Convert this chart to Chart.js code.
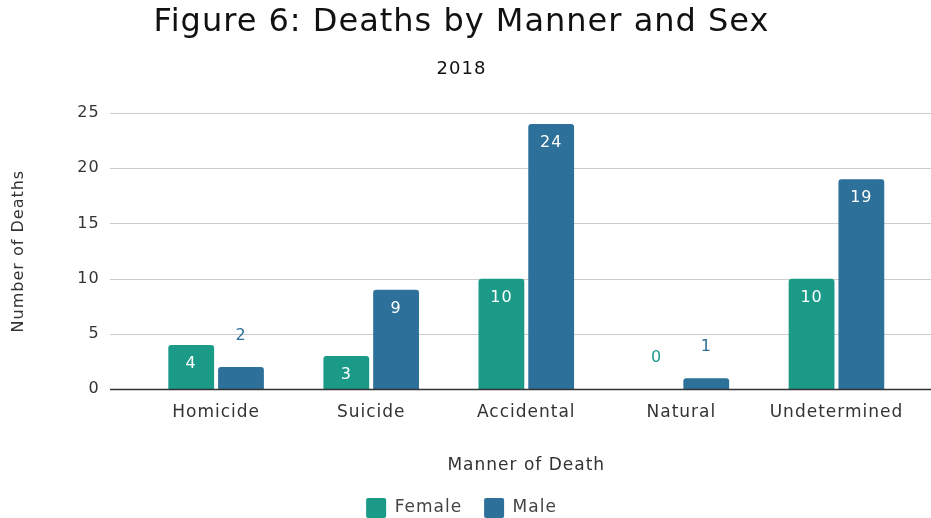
<!DOCTYPE html>
<html>
<head>
<meta charset="utf-8">
<script src="https://cdn.jsdelivr.net/npm/chart.js@4/dist/chart.umd.min.js"></script>
<style>
  html, body { margin: 0; padding: 0; background: #ffffff; }
  #wrap { width: 931px; height: 518px; position: relative; }
</style>
</head>
<body>
<div id="wrap"><canvas id="c"></canvas></div>
<script>
const categories = ["Homicide", "Suicide", "Accidental", "Natural", "Undetermined"];
const femaleDeaths = [4, 3, 10, 0, 10];
const maleDeaths = [2, 9, 24, 1, 19];
const seriesNames = ["Female", "Male"];
const yTicks = [0, 5, 10, 15, 20, 25];

const FEMALE = "#1b9a88";
const MALE = "#2d7099";
const SANS = "'DejaVu Sans', Verdana, sans-serif";
const GEO = "'DejaVu Sans', Verdana, sans-serif";

const spacingPlugin = {
  id: "spacing",
  beforeLayout(chart) { chart.ctx.letterSpacing = "1px"; },
  beforeDraw(chart) { chart.ctx.letterSpacing = "1px"; }
};

const gridPlugin = {
  id: "wideGrid",
  beforeDatasetsDraw(chart) {
    const y = chart.scales.y, ctx = chart.ctx;
    ctx.save();
    y.ticks.forEach(t => {
      const py = Math.round(y.getPixelForValue(t.value)) + 0.5;
      ctx.beginPath();
      ctx.lineWidth = 1;
      ctx.strokeStyle = "#cccccc";
      ctx.moveTo(110, py);
      ctx.lineTo(chart.width, py);
      ctx.stroke();
    });
    ctx.restore();
  },
  afterDatasetsDraw(chart) {
    const y = chart.scales.y, ctx = chart.ctx;
    const py = Math.round(y.getPixelForValue(0)) + 0.5;
    ctx.save();
    ctx.beginPath();
    ctx.lineWidth = 1.3;
    ctx.strokeStyle = "#333333";
    ctx.moveTo(110, py);
    ctx.lineTo(chart.width, py);
    ctx.stroke();
    ctx.restore();
  }
};

const labelPlugin = {
  id: "barLabels",
  afterDatasetsDraw(chart) {
    const ctx = chart.ctx;
    ctx.save();
    ctx.font = "16px " + GEO;
    ctx.textAlign = "center";
    ctx.textBaseline = "middle";
    chart.data.datasets.forEach((ds, i) => {
      const meta = chart.getDatasetMeta(i);
      meta.data.forEach((bar, j) => {
        const v = ds.data[j];
        if (v >= 3) {
          ctx.fillStyle = "#ffffff";
          ctx.fillText(String(v), bar.x, bar.y + 19);
        } else {
          ctx.fillStyle = ds.backgroundColor;
          ctx.fillText(String(v), bar.x, bar.y - 31);
        }
      });
    });
    ctx.restore();
  }
};

new Chart(document.getElementById("c"), {
  type: "bar",
  data: {
    labels: categories,
    datasets: [
      { label: seriesNames[0], data: femaleDeaths, backgroundColor: FEMALE,
        borderRadius: { topLeft: 3, topRight: 3 }, borderSkipped: "bottom",
        categoryPercentage: 0.642, barPercentage: 0.92 },
      { label: seriesNames[1], data: maleDeaths, backgroundColor: MALE,
        borderRadius: { topLeft: 3, topRight: 3 }, borderSkipped: "bottom",
        categoryPercentage: 0.642, barPercentage: 0.92 }
    ]
  },
  options: {
    responsive: true,
    maintainAspectRatio: false,
    animation: false,
    layout: { padding: { left: 9, right: 17, top: 0, bottom: -10 } },
    plugins: {
      title: {
        display: true, text: "Figure 6: Deaths by Manner and Sex",
        color: "#111111", font: { family: SANS, size: 32, weight: "normal", lineHeight: 1.2 },
        padding: { top: 3, bottom: 8 }
      },
      subtitle: {
        display: true, text: "2018",
        color: "#111111", font: { family: SANS, size: 18, weight: "normal" },
        padding: { top: 9, bottom: 33 }
      },
      legend: {
        position: "bottom",
        labels: {
          color: "#444444", font: { family: GEO, size: 17 },
          boxWidth: 20, boxHeight: 20, padding: 22, useBorderRadius: true, borderRadius: 2
        }
      },
      tooltip: { enabled: false }
    },
    scales: {
      x: {
        grid: { display: false, drawTicks: false },
        border: { display: false },
        ticks: { color: "#333333", font: { family: GEO, size: 17 }, padding: 13 },
        title: { display: true, text: "Manner of Death", color: "#333333",
          font: { family: GEO, size: 17 }, padding: { top: 20, bottom: 0 } }
      },
      y: {
        min: 0, max: 25,
        afterBuildTicks(scale) { scale.ticks = yTicks.map(v => ({ value: v })); },
        grid: { display: false, drawTicks: false },
        border: { display: false },
        ticks: { color: "#333333", font: { family: SANS, size: 16 }, padding: 39 },
        title: { display: true, text: "Number of Deaths", color: "#333333",
          font: { family: SANS, size: 16 }, padding: { top: 0, bottom: 10 } }
      }
    }
  },
  plugins: [spacingPlugin, gridPlugin, labelPlugin]
});
</script>
</body>
</html>
